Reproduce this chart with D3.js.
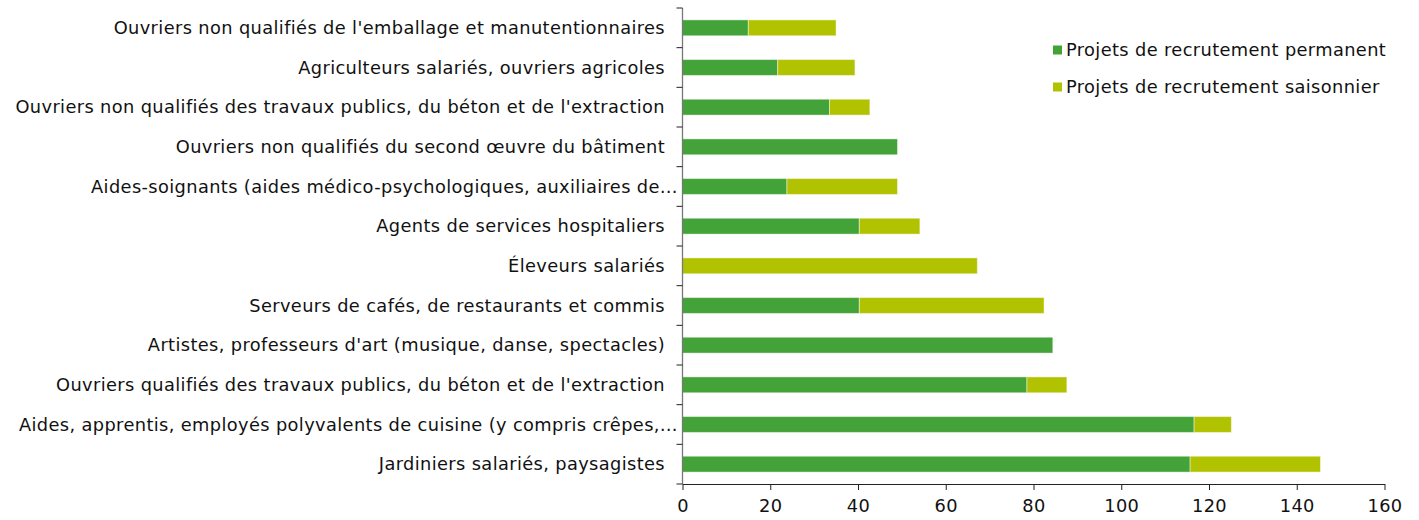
<!DOCTYPE html>
<html><head><meta charset="utf-8">
<script src="https://cdn.jsdelivr.net/npm/d3@7"></script>
<style>
html,body{margin:0;padding:0;background:#fff;}
text{font-family:"DejaVu Sans",Verdana,sans-serif;}
</style></head>
<body><svg id="c" width="1419" height="520"></svg>
<script>
const categories = [
  "Ouvriers non qualifiés de l'emballage et manutentionnaires",
  "Agriculteurs salariés, ouvriers agricoles",
  "Ouvriers non qualifiés des travaux publics, du béton et de l'extraction",
  "Ouvriers non qualifiés du second œuvre du bâtiment",
  "Aides-soignants (aides médico-psychologiques, auxiliaires de…",
  "Agents de services hospitaliers",
  "Éleveurs salariés",
  "Serveurs de cafés, de restaurants et commis",
  "Artistes, professeurs d'art (musique, danse, spectacles)",
  "Ouvriers qualifiés des travaux publics, du béton et de l'extraction",
  "Aides, apprentis, employés polyvalents de cuisine (y compris crêpes,…",
  "Jardiniers salariés, paysagistes"
];
const permanent = [15.0, 21.7, 33.5, 49.0, 23.8, 40.3, 0, 40.3, 84.4, 78.5, 116.6, 115.7];
const saisonnier = [20.0, 17.6, 9.2, 0, 25.2, 13.8, 67.2, 42.1, 0, 9.1, 8.5, 29.7];
const seriesNames = ["Projets de recrutement permanent", "Projets de recrutement saisonnier"];
const colors = ["#43a338", "#b1c200"];
const xTicks = [0, 20, 40, 60, 80, 100, 120, 140, 160];

const FS = 17.8, LS = 0.38;
const svg = d3.select("#c");
const mLeft = 682.5, mRight = 1384.5, mTop = 8, mBottom = 484;
const x = d3.scaleLinear().domain([0, 160]).range([mLeft, mRight]);
const y = d3.scaleBand().domain(categories).range([mTop, mBottom]).paddingInner(0.6).paddingOuter(0.3);
const yb = d3.scaleBand().domain(categories).range([mTop, mBottom]);

const data = categories.map((c, i) => ({cat: c, permanent: permanent[i], saisonnier: saisonnier[i]}));
const stack = d3.stack().keys(["permanent", "saisonnier"])(data);

stack.forEach((s, si) => {
  svg.append("g").selectAll("rect").data(s).join("rect")
    .attr("x", d => x(d[0]))
    .attr("y", d => y(d.data.cat))
    .attr("width", d => Math.max(0, x(d[1]) - x(d[0])))
    .attr("height", y.bandwidth())
    .attr("fill", colors[si])
    .attr("stroke", "rgba(255,255,255,0.45)")
    .attr("stroke-width", 1)
    .style("display", d => (d[1] - d[0]) > 0 ? null : "none");
});

// Y axis: line + ticks at band boundaries
const ya = svg.append("g");
ya.append("line").attr("x1", mLeft).attr("x2", mLeft).attr("y1", mTop).attr("y2", mBottom)
  .attr("stroke", "#777").attr("stroke-width", 1.3);
const bounds = categories.map(c => yb(c)).concat([mBottom]);
ya.selectAll("line.t").data(bounds).join("line").attr("class", "t")
  .attr("x1", mLeft - 6).attr("x2", mLeft).attr("y1", d => d).attr("y2", d => d)
  .attr("stroke", "#222").attr("stroke-width", 1);
ya.selectAll("text").data(categories).join("text")
  .attr("x", d => d.endsWith("…") ? 678 : 665).attr("y", c => yb(c) + yb.bandwidth() / 2)
  .attr("dy", "0.35em").attr("text-anchor", "end")
  .attr("font-size", FS).attr("letter-spacing", LS).attr("fill", "#111").text(d => d);

// X axis
const xa = svg.append("g").attr("transform", `translate(0,${mBottom})`)
  .call(d3.axisBottom(x).tickValues(xTicks).tickSize(6).tickPadding(9).tickSizeOuter(0));
xa.select(".domain").attr("stroke", "#222");
xa.selectAll(".tick line").attr("stroke", "#222");
xa.selectAll(".tick text").attr("font-size", FS).attr("letter-spacing", LS).attr("fill", "#111")
  .style("font-family", "'DejaVu Sans', Verdana, sans-serif");

// Legend
const lg = svg.append("g");
seriesNames.forEach((n, i) => {
  const cy = 50 + i * 37;
  lg.append("rect").attr("x", 1053).attr("y", cy - 4.5).attr("width", 9).attr("height", 9).attr("fill", colors[i]);
  lg.append("text").attr("x", 1066).attr("y", cy).attr("dy", "0.35em")
    .attr("font-size", FS).attr("letter-spacing", LS).attr("fill", "#111").text(n);
});
</script></body></html>
